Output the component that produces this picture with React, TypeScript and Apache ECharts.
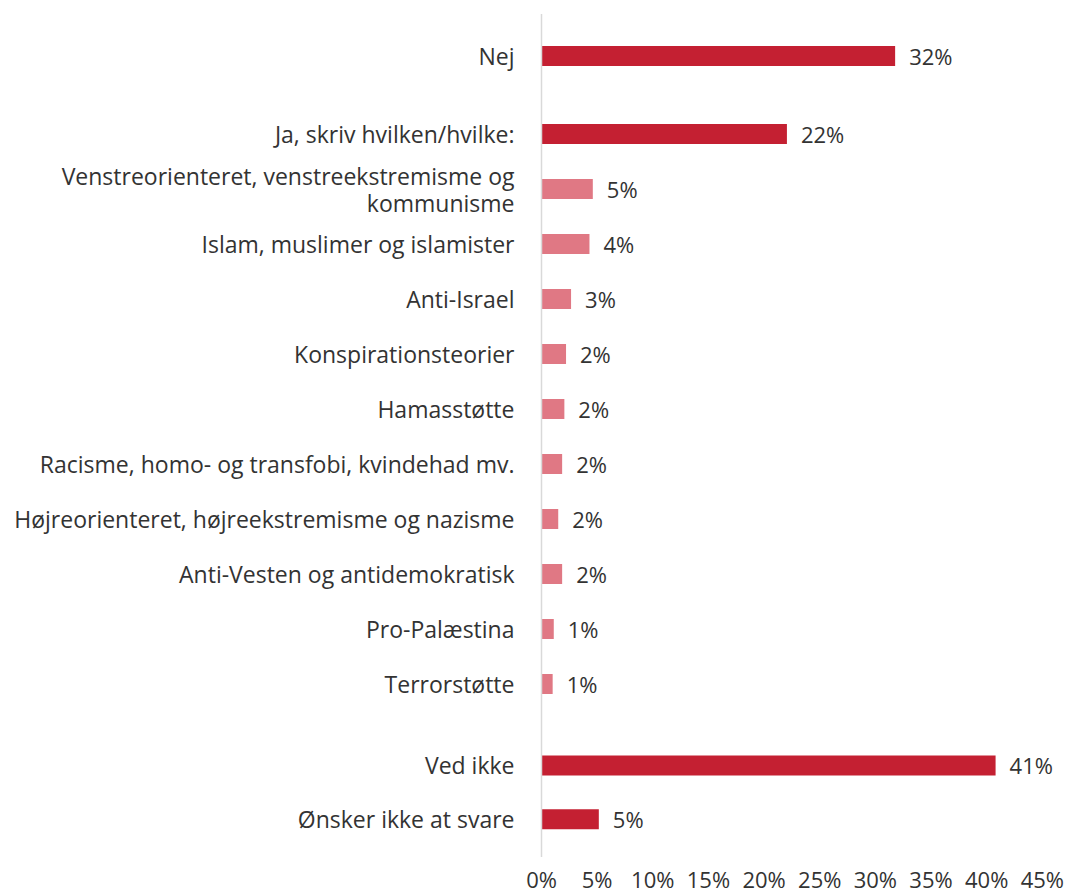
import React, { useEffect, useRef } from "react";
import * as echarts from "echarts";

const topCategories = ["Nej"];
const topValues = [31.7];

const midCategories = [
  "Ja, skriv hvilken/hvilke:",
  "Venstreorienteret, venstreekstremisme og\nkommunisme",
  "Islam, muslimer og islamister",
  "Anti-Israel",
  "Konspirationsteorier",
  "Hamasstøtte",
  "Racisme, homo- og transfobi, kvindehad mv.",
  "Højreorienteret, højreekstremisme og nazisme",
  "Anti-Vesten og antidemokratisk",
  "Pro-Palæstina",
  "Terrorstøtte",
];
const midValues = [22.0, 4.6, 4.3, 2.65, 2.2, 2.05, 1.85, 1.5, 1.85, 1.1, 1.0];

const bottomCategories = ["Ved ikke", "Ønsker ikke at svare"];
const bottomValues = [40.8, 5.15];

const xTicks = { min: 0, max: 45, interval: 5 };

const DARK = "#C42032";
const LIGHT = "#E07884";
const TEXT = "#333333";
const FONT = "'Open Sans', sans-serif";
const FS = 23;

export default function App() {
  const ref = useRef<HTMLDivElement>(null);

  useEffect(() => {
    if (!ref.current) return;
    const chart = echarts.init(ref.current, null, { renderer: "svg" });

    const left = 541.5;
    const right = 1067 - 1043.5;
    const grids = [
      { left, right, top: 28.5, height: 55 },
      { left, right, top: 106.5, height: 605 },
      { left, right, top: 738.5, height: 110 },
    ];

    const cats = [topCategories, midCategories, bottomCategories];
    const vals = [topValues, midValues, bottomValues];

    const xAxis = grids.map((_, i) => ({
      type: "value",
      gridIndex: i,
      min: xTicks.min,
      max: xTicks.max,
      interval: xTicks.interval,
      splitLine: { show: false },
      axisLine: { show: false },
      axisTick: { show: false },
      axisLabel: {
        show: i === 2,
        margin: 24,
        lineHeight: 18,
        formatter: (v: number) => `${v}%`,
        color: TEXT,
        fontSize: 22,
        fontFamily: FONT,
      },
    }));

    const yAxis = grids.map((_, i) => ({
      type: "category",
      gridIndex: i,
      inverse: true,
      data: cats[i],
      axisLine: { show: false },
      axisTick: { show: false },
      axisLabel: {
        margin: 27,
        color: TEXT,
        fontSize: FS,
        lineHeight: 27,
        align: "right",
        fontFamily: FONT,
      },
    }));

    const series = grids.map((_, i) => ({
      type: "bar",
      xAxisIndex: i,
      yAxisIndex: i,
      barWidth: 20,
      data: vals[i].map((v, j) => ({
        value: v,
        itemStyle: { color: i === 1 && j > 0 ? LIGHT : DARK },
      })),
      label: {
        show: true,
        position: "right",
        distance: 14,
        formatter: (p: any) => `${Math.round(p.value)}%`,
        color: TEXT,
        fontSize: 22,
        fontFamily: FONT,
      },
    }));

    chart.setOption({
      animation: false,
      backgroundColor: "#ffffff",
      grid: grids,
      xAxis,
      yAxis,
      series,
      graphic: [
        {
          type: "line",
          shape: { x1: 541.5, y1: 14, x2: 541.5, y2: 857 },
          style: { stroke: "#D9D9D9", lineWidth: 1.5 },
          z: 10,
        },
      ],
    });

    return () => chart.dispose();
  }, []);

  return <div ref={ref} style={{ width: 1067, height: 890, position: "absolute", left: 0, top: 0 }} />;
}
